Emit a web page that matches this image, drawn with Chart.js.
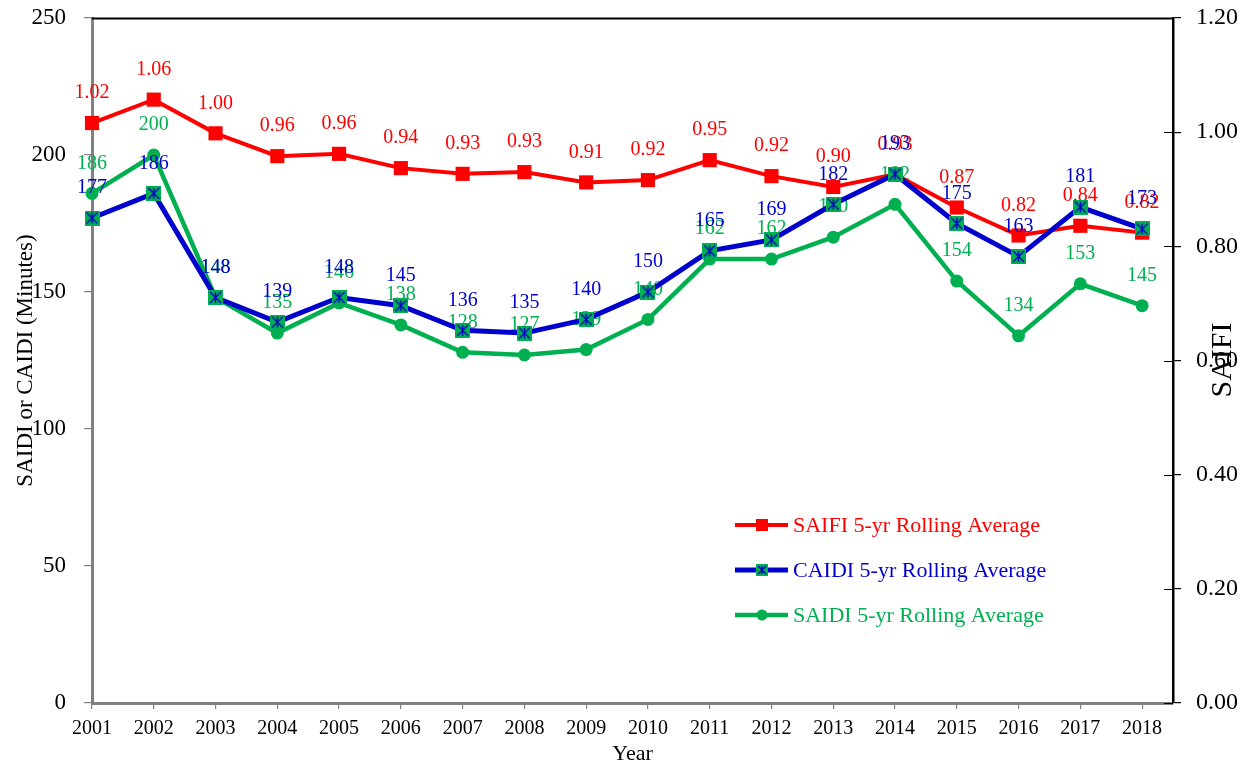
<!DOCTYPE html>
<html>
<head>
<meta charset="utf-8">
<script src="https://cdn.jsdelivr.net/npm/chart.js@4/dist/chart.umd.min.js"></script>
<style>
  html, body { margin: 0; padding: 0; background: #ffffff; }
  #wrap { width: 1251px; height: 767px; }
</style>
</head>
<body>
<div id="wrap"><canvas id="c" width="1251" height="767"></canvas></div>
<script>
// ---- data ----
const years = [2001, 2002, 2003, 2004, 2005, 2006, 2007, 2008, 2009, 2010, 2011, 2012, 2013, 2014, 2015, 2016, 2017, 2018];
const saifi = [1.016, 1.057, 0.998, 0.958, 0.962, 0.937, 0.927, 0.930, 0.912, 0.916, 0.951, 0.923, 0.904, 0.926, 0.868, 0.819, 0.836, 0.824];
const caidi = [177, 186, 148, 139, 148, 145, 136, 135, 140, 150, 165, 169, 182, 193, 175, 163, 181, 173];
const saidi = [186, 200, 148, 135, 146, 138, 128, 127, 129, 140, 162, 162, 170, 182, 154, 134, 153, 145];
const seriesNames = ['SAIFI 5-yr Rolling Average', 'CAIDI 5-yr Rolling Average', 'SAIDI 5-yr Rolling Average'];
const leftTitle = 'SAIDI or CAIDI (Minutes)';
const rightTitle = 'SAIFI';
const xTitle = 'Year';

const RED = '#FF0000', BLUE = '#0000CC', GREEN = '#00B050';
const FONT = '"Liberation Serif", "Times New Roman", serif';

// CAIDI marker: green square with blue asterisk-like cross
function makeCaidiMarker(size) {
  const c = document.createElement('canvas');
  c.width = size; c.height = size;
  const g = c.getContext('2d');
  g.fillStyle = GREEN;
  g.fillRect(0, 0, size, size);
  g.strokeStyle = BLUE;
  g.lineWidth = 1.4;
  const p = 2;
  g.beginPath();
  g.moveTo(p, p); g.lineTo(size - p, size - p);
  g.moveTo(size - p, p); g.lineTo(p, size - p);
  g.moveTo(size / 2, p); g.lineTo(size / 2, size - p);
  g.stroke();
  return c;
}
const caidiMarker = makeCaidiMarker(15);
const caidiLegendMarker = makeCaidiMarker(12);

const toPts = arr => years.map((yr, i) => ({ x: yr, y: arr[i] }));

const labelPlugin = {
  id: 'pointLabels',
  afterDatasetDraw(chart, args) {
    const ds = chart.data.datasets[args.index];
    const ctx = chart.ctx;
    ctx.save();
    ctx.font = '20px ' + FONT;
    ctx.fillStyle = ds.labelColor;
    ctx.textAlign = 'center';
    ctx.textBaseline = 'middle';
    args.meta.data.forEach((pt, i) => {
      const v = ds.data[i].y;
      ctx.fillText(ds.isRatio ? v.toFixed(2) : String(Math.round(v)), pt.x, pt.y - 30);
    });
    ctx.restore();
  }
};

const framePlugin = {
  id: 'frame',
  afterDraw(chart) {
    const ctx = chart.ctx;
    const a = chart.chartArea;
    ctx.save();
    // top border
    ctx.strokeStyle = '#000';
    ctx.lineWidth = 2;
    ctx.beginPath();
    ctx.moveTo(a.left, a.top + 0.5);
    ctx.lineTo(a.right + 1, a.top + 0.5);
    ctx.stroke();
    // inward half of right-axis tick marks
    const s = chart.scales.y1;
    ctx.lineWidth = 1.2;
    ctx.beginPath();
    s.ticks.forEach(t => {
      const y = Math.round(s.getPixelForValue(t.value)) + 0.5;
      ctx.moveTo(a.right - 9, y);
      ctx.lineTo(a.right, y);
    });
    ctx.stroke();
    // right axis title (reads bottom to top)
    ctx.translate(1223, 360);
    ctx.rotate(-Math.PI / 2);
    ctx.font = '30px ' + FONT;
    ctx.fillStyle = '#000';
    ctx.textAlign = 'center';
    ctx.textBaseline = 'middle';
    ctx.fillText(rightTitle, 0, 0);
    ctx.restore();

    // legend
    ctx.save();
    chart.data.datasets.forEach((ds, i) => {
      const y = 525 + 45 * i;
      ctx.strokeStyle = ds.borderColor;
      ctx.lineWidth = ds.borderWidth;
      ctx.beginPath();
      ctx.moveTo(735, y);
      ctx.lineTo(788, y);
      ctx.stroke();
      const cx = 762;
      if (ds.legendMarker === 'rect') {
        ctx.fillStyle = ds.borderColor;
        ctx.fillRect(cx - 6, y - 6, 12, 12);
      } else if (ds.legendMarker === 'circle') {
        ctx.fillStyle = ds.borderColor;
        ctx.beginPath();
        ctx.arc(cx, y, 5.5, 0, Math.PI * 2);
        ctx.fill();
      } else {
        ctx.drawImage(caidiLegendMarker, cx - 6, y - 6);
      }
      ctx.font = '22px ' + FONT;
      ctx.fillStyle = ds.labelColor;
      ctx.textAlign = 'left';
      ctx.textBaseline = 'middle';
      ctx.fillText(ds.label, 793, y + 1);
    });
    ctx.restore();
  }
};

function noVPad(s) { s.paddingTop = 0; s.paddingBottom = 0; }

new Chart(document.getElementById('c'), {
  type: 'line',
  data: {
    datasets: [
      {
        label: seriesNames[0], data: toPts(saifi), yAxisID: 'y1', order: 1, clip: false,
        borderColor: RED, backgroundColor: RED, borderWidth: 4,
        pointStyle: 'rect', pointRadius: 10, pointBorderWidth: 0, pointBackgroundColor: RED,
        labelColor: RED, isRatio: true, legendMarker: 'rect'
      },
      {
        label: seriesNames[1], data: toPts(caidi), yAxisID: 'y', order: 0, clip: false,
        borderColor: BLUE, backgroundColor: GREEN, borderWidth: 5,
        pointStyle: caidiMarker, pointRadius: 8,
        labelColor: BLUE, isRatio: false, legendMarker: 'caidi'
      },
      {
        label: seriesNames[2], data: toPts(saidi), yAxisID: 'y', order: 2, clip: false,
        borderColor: GREEN, backgroundColor: GREEN, borderWidth: 4.5,
        pointStyle: 'circle', pointRadius: 6.5, pointBorderWidth: 0, pointBackgroundColor: GREEN,
        labelColor: GREEN, isRatio: false, legendMarker: 'circle'
      }
    ]
  },
  options: {
    responsive: false,
    animation: false,
    events: [],
    layout: { padding: { top: 18, left: 0, right: 0, bottom: 0 } },
    elements: { line: { tension: 0 } },
    plugins: { legend: { display: false }, tooltip: { enabled: false } },
    scales: {
      x: {
        type: 'linear', min: 2001, max: 2018.5,
        afterFit(s) { s.height = 64; },
        afterBuildTicks(s) { s.ticks = years.map(v => ({ value: v })); },
        ticks: {
          autoSkip: false, maxRotation: 0, minRotation: 0, padding: 8,
          color: '#000', font: { family: FONT, size: 20 },
          callback: v => String(v)
        },
        grid: { drawOnChartArea: false, drawTicks: true, tickLength: 6, color: '#808080', lineWidth: 1.2 },
        border: { display: true, color: '#808080', width: 3 },
        title: { display: true, text: xTitle, color: '#000', font: { family: FONT, size: 22 }, padding: { top: 0, bottom: 0 } }
      },
      y: {
        position: 'left', min: 0, max: 250,
        afterFit(s) { s.width = 92; noVPad(s); },
        ticks: { stepSize: 50, padding: 18, color: '#000', font: { family: FONT, size: 23 } },
        grid: { drawOnChartArea: false, drawTicks: true, tickLength: 8, color: '#808080', lineWidth: 1.2 },
        border: { display: true, color: '#808080', width: 3 },
        title: { display: true, text: leftTitle, color: '#000', font: { family: FONT, size: 23 }, padding: { top: 12, bottom: 0 } }
      },
      y1: {
        position: 'right', min: 0, max: 1.2,
        afterFit(s) { s.width = 78; noVPad(s); },
        ticks: { stepSize: 0.2, padding: 15, color: '#000', font: { family: FONT, size: 24 }, callback: v => Number(v).toFixed(2) },
        grid: { drawOnChartArea: false, drawTicks: true, tickLength: 8, color: '#000', lineWidth: 1.2 },
        border: { display: true, color: '#000', width: 2.5 }
      }
    }
  },
  plugins: [labelPlugin, framePlugin]
});
</script>
</body>
</html>
